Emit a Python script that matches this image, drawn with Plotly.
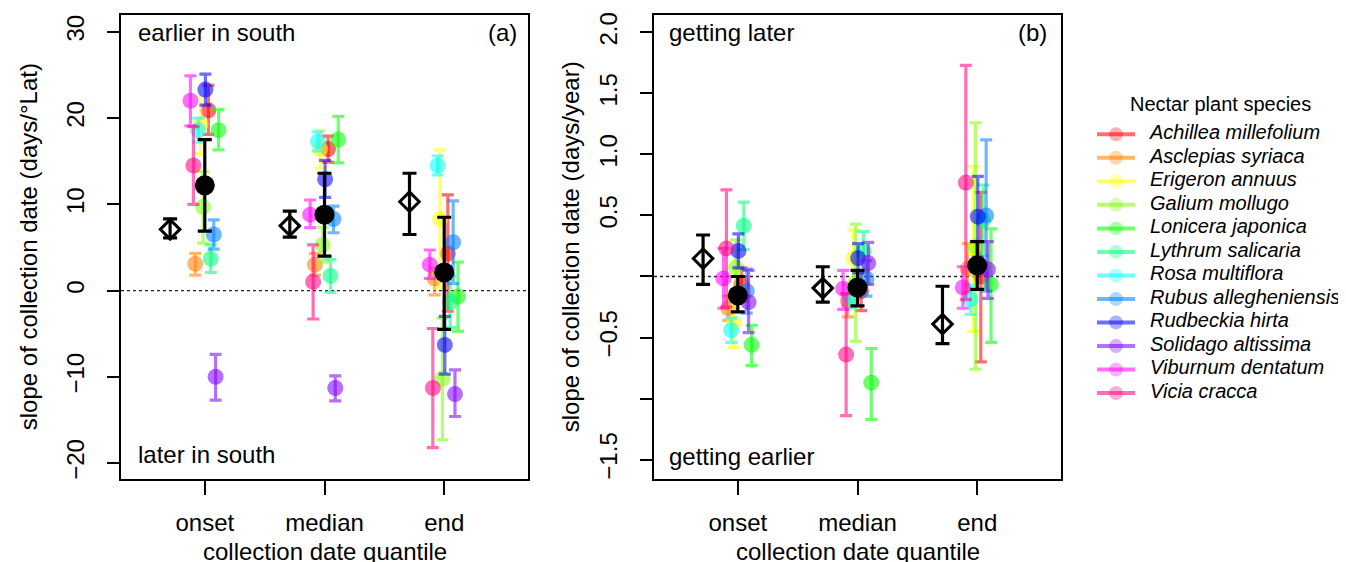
import plotly.graph_objects as go

# ---------------- data ----------------
quantiles = ["onset", "median", "end"]
species = ["Achillea millefolium", "Asclepias syriaca", "Erigeron annuus", "Galium mollugo",
           "Lonicera japonica", "Lythrum salicaria", "Rosa multiflora", "Rubus allegheniensis",
           "Rudbeckia hirta", "Solidago altissima", "Viburnum dentatum", "Vicia cracca"]

# panel (a): slope vs latitude (days/°Lat) -- [onset, median, end]
lat_est = {
    "Achillea millefolium": [20.9, 16.4, 4.3],
    "Asclepias syriaca": [3.1, 3.0, 1.4],
    "Erigeron annuus": [19.3, 16.4, 8.3],
    "Galium mollugo": [9.7, 5.3, -10.2],
    "Lonicera japonica": [18.6, 17.5, -0.7],
    "Lythrum salicaria": [3.7, 1.7, -1.3],
    "Rosa multiflora": [18.6, 17.3, 14.5],
    "Rubus allegheniensis": [6.5, 8.3, 5.6],
    "Rudbeckia hirta": [23.3, 12.9, -6.3],
    "Solidago altissima": [-10.0, -11.3, -12.0],
    "Viburnum dentatum": [22.0, 8.8, 3.0],
    "Vicia cracca": [14.5, 1.0, -11.3],
}
lat_lo = {
    "Achillea millefolium": [18.1, 14.9, -2.4],
    "Asclepias syriaca": [1.8, 1.8, -0.5],
    "Erigeron annuus": [15.9, 14.2, 0.3],
    "Galium mollugo": [5.5, 3.3, -17.3],
    "Lonicera japonica": [16.3, 14.8, -4.7],
    "Lythrum salicaria": [2.1, -0.2, -4.3],
    "Rosa multiflora": [17.2, 16.2, 13.4],
    "Rubus allegheniensis": [4.8, 6.7, 0.8],
    "Rudbeckia hirta": [21.5, 10.8, -9.7],
    "Solidago altissima": [-12.7, -12.8, -14.6],
    "Viburnum dentatum": [19.1, 7.3, 1.4],
    "Vicia cracca": [10.0, -3.3, -18.2],
}
lat_hi = {
    "Achillea millefolium": [23.8, 17.9, 11.1],
    "Asclepias syriaca": [4.3, 4.3, 2.6],
    "Erigeron annuus": [22.5, 18.6, 16.3],
    "Galium mollugo": [13.8, 7.3, -3.2],
    "Lonicera japonica": [21.0, 20.2, 3.3],
    "Lythrum salicaria": [5.3, 3.6, 1.7],
    "Rosa multiflora": [20.0, 18.4, 15.6],
    "Rubus allegheniensis": [8.2, 9.8, 10.4],
    "Rudbeckia hirta": [25.1, 15.1, -3.0],
    "Solidago altissima": [-7.4, -9.9, -9.2],
    "Viburnum dentatum": [24.9, 10.5, 4.7],
    "Vicia cracca": [19.0, 5.3, -4.4],
}
lat_mean = [12.2, 8.8, 2.1]
lat_mean_lo = [6.9, 4.0, -4.5]
lat_mean_hi = [17.5, 13.6, 8.5]
lat_all = [7.1, 7.5, 10.3]
lat_all_lo = [6.1, 6.2, 6.5]
lat_all_hi = [8.3, 9.2, 13.6]

# panel (b): slope vs year (days/year) -- [onset, median, end]
yr_est = {
    "Achillea millefolium": [-0.065, -0.12, 0.0],
    "Asclepias syriaca": [-0.26, -0.20, 0.065],
    "Erigeron annuus": [-0.38, 0.15, 0.23],
    "Galium mollugo": [0.073, -0.05, 0.245],
    "Lonicera japonica": [-0.56, -0.87, -0.065],
    "Lythrum salicaria": [0.415, 0.21, 0.46],
    "Rosa multiflora": [-0.44, -0.18, -0.19],
    "Rubus allegheniensis": [-0.12, -0.016, 0.50],
    "Rudbeckia hirta": [0.21, 0.15, 0.49],
    "Solidago altissima": [-0.21, 0.11, 0.057],
    "Viburnum dentatum": [-0.016, -0.10, -0.09],
    "Vicia cracca": [0.23, -0.64, 0.77],
}
yr_lo = {
    "Achillea millefolium": [-0.20, -0.28, -0.70],
    "Asclepias syriaca": [-0.36, -0.33, -0.13],
    "Erigeron annuus": [-0.58, -0.08, -0.45],
    "Galium mollugo": [-0.15, -0.53, -0.76],
    "Lonicera japonica": [-0.73, -1.17, -0.54],
    "Lythrum salicaria": [0.22, 0.05, 0.17],
    "Rosa multiflora": [-0.54, -0.26, -0.31],
    "Rubus allegheniensis": [-0.30, -0.16, -0.12],
    "Rudbeckia hirta": [0.07, 0.03, 0.16],
    "Solidago altissima": [-0.46, -0.065, -0.18],
    "Viburnum dentatum": [-0.26, -0.27, -0.26],
    "Vicia cracca": [-0.25, -1.14, -0.19],
}
yr_hi = {
    "Achillea millefolium": [0.07, 0.04, 0.69],
    "Asclepias syriaca": [-0.16, -0.07, 0.27],
    "Erigeron annuus": [-0.18, 0.38, 0.90],
    "Galium mollugo": [0.30, 0.43, 1.26],
    "Lonicera japonica": [-0.40, -0.59, 0.39],
    "Lythrum salicaria": [0.61, 0.37, 0.75],
    "Rosa multiflora": [-0.34, -0.10, -0.07],
    "Rubus allegheniensis": [0.06, 0.13, 1.12],
    "Rudbeckia hirta": [0.35, 0.27, 0.82],
    "Solidago altissima": [0.05, 0.28, 0.285],
    "Viburnum dentatum": [0.23, 0.05, 0.08],
    "Vicia cracca": [0.71, -0.14, 1.73],
}
yr_mean = [-0.155, -0.09, 0.09]
yr_mean_lo = [-0.29, -0.24, -0.106]
yr_mean_hi = [0.0, 0.05, 0.285]
yr_all = [0.147, -0.095, -0.39]
yr_all_lo = [-0.065, -0.21, -0.55]
yr_all_hi = [0.34, 0.08, -0.08]

# ---------------- styles ----------------
base_rgb = [(255, 0, 0), (255, 128, 0), (255, 255, 0), (128, 255, 0), (0, 255, 0), (0, 255, 128),
            (0, 255, 255), (0, 128, 255), (0, 0, 255), (128, 0, 255), (255, 0, 255), (255, 0, 128)]
ALPHA = 0.57
colors = [f"rgba({r},{g},{b},{ALPHA})" for r, g, b in base_rgb]
jitter = [0.03, -0.08, -0.035, -0.015, 0.115, 0.05, -0.055, 0.075, 0.005, 0.09, -0.12, -0.095]
DIAMOND_SHIFT = -0.29
FONT = "Liberation Sans, Arial, Helvetica, sans-serif"

# the page body has an 8px margin: the figure is placed at (8, 8) in the window
OFF = 8
WIN_W, WIN_H = 1346, 562
W, H = WIN_W - OFF, WIN_H - OFF
PA = (121, 528)
PB = (654, 1061)
TOP, BOT = 12, 479

fig = go.Figure()


def add_panel(est, lo, hi, m, mlo, mhi, a, alo, ahi, xa, ya):
    xs_base = [1, 2, 3]
    for i, sp in enumerate(species):
        e = est[sp]
        fig.add_trace(go.Scatter(
            x=[x + jitter[i] for x in xs_base], y=e, mode="markers",
            marker=dict(size=16, color=colors[i], line=dict(width=0)),
            error_y=dict(type="data", symmetric=False,
                         array=[h - v for h, v in zip(hi[sp], e)],
                         arrayminus=[v - l for v, l in zip(e, lo[sp])],
                         color=colors[i], thickness=3.2, width=6),
            xaxis=xa, yaxis=ya, showlegend=False, hoverinfo="skip"))
    fig.add_trace(go.Scatter(
        x=[x + DIAMOND_SHIFT for x in xs_base], y=a, mode="markers",
        marker=dict(size=15, symbol="diamond-open", color="black", line=dict(width=3, color="black")),
        error_y=dict(type="data", symmetric=False,
                     array=[h - v for h, v in zip(ahi, a)],
                     arrayminus=[v - l for v, l in zip(a, alo)],
                     color="black", thickness=3.2, width=7),
        xaxis=xa, yaxis=ya, showlegend=False, hoverinfo="skip"))
    fig.add_trace(go.Scatter(
        x=xs_base, y=m, mode="markers",
        marker=dict(size=20, color="black"),
        error_y=dict(type="data", symmetric=False,
                     array=[h - v for h, v in zip(mhi, m)],
                     arrayminus=[v - l for v, l in zip(m, mlo)],
                     color="black", thickness=3.2, width=7),
        xaxis=xa, yaxis=ya, showlegend=False, hoverinfo="skip"))


add_panel(lat_est, lat_lo, lat_hi, lat_mean, lat_mean_lo, lat_mean_hi,
          lat_all, lat_all_lo, lat_all_hi, "x", "y")
add_panel(yr_est, yr_lo, yr_hi, yr_mean, yr_mean_lo, yr_mean_hi,
          yr_all, yr_all_lo, yr_all_hi, "x2", "y2")

# ---------------- custom legend (hidden axis) ----------------
LEG_X0 = 1085
for i, sp in enumerate(species):
    fig.add_trace(go.Scatter(
        x=[1097 - LEG_X0, 1116 - LEG_X0, 1135 - LEG_X0], y=[i, i, i], mode="lines+markers",
        line=dict(color=colors[i], width=4),
        marker=dict(size=[0, 14, 0], color=f"rgba({base_rgb[i][0]},{base_rgb[i][1]},{base_rgb[i][2]},0.45)",
                    line=dict(width=0)),
        xaxis="x3", yaxis="y3", showlegend=False, hoverinfo="skip"))
fig.add_trace(go.Scatter(
    x=[1150 - LEG_X0] * len(species), y=list(range(len(species))), mode="text",
    text=[f"<i>{s}</i>" for s in species], textposition="middle right",
    textfont=dict(family=FONT, size=20, color="black"),
    xaxis="x3", yaxis="y3", showlegend=False, hoverinfo="skip"))

leg_first, leg_step = 132, 23.64


def px2x(p):
    return (p - OFF) / W


def px2y(p):
    return 1 - (p - OFF) / H


axis_common = dict(showgrid=False, zeroline=False, showline=True, mirror=True,
                   linecolor="black", linewidth=1.5, ticks="outside", tickwidth=1.5,
                   tickcolor="black", tickfont=dict(family=FONT, size=24, color="black"))

fig.update_layout(
    width=W, height=H, margin=dict(l=0, r=0, t=0, b=0),
    paper_bgcolor="white", plot_bgcolor="white", showlegend=False,
    font=dict(family=FONT, size=24, color="black"),
    xaxis=dict(domain=[px2x(PA[0]), px2x(PA[1])], range=[0.3, 3.7], tickvals=[1, 2, 3],
               ticktext=quantiles, ticklen=14, ticklabelstandoff=7, anchor="y", **axis_common),
    yaxis=dict(domain=[px2y(BOT), px2y(TOP)], range=[-21.9, 31.95],
               tickvals=[-20, -10, 0, 10, 20, 30],
               ticktext=["\u221220", "\u221210", "0", "10", "20", "30"],
               tickangle=-90, ticklen=12, ticklabelstandoff=14, anchor="x", **axis_common),
    xaxis2=dict(domain=[px2x(PB[0]), px2x(PB[1])], range=[0.3, 3.7], tickvals=[1, 2, 3],
                ticktext=quantiles, ticklen=14, ticklabelstandoff=7, anchor="y2", **axis_common),
    yaxis2=dict(domain=[px2y(BOT), px2y(TOP)], range=[-1.663, 2.143],
                tickvals=[-1.5, -1.0, -0.5, 0, 0.5, 1.0, 1.5, 2.0],
                ticktext=["\u22121.5", "", "\u22120.5", "", "0.5", "1.0", "1.5", "2.0"],
                tickangle=-90, ticklen=12, ticklabelstandoff=14, anchor="x2", **axis_common),
    xaxis3=dict(domain=[px2x(LEG_X0), 1], range=[0, WIN_W - LEG_X0], visible=False, anchor="y3"),
    yaxis3=dict(domain=[0, 1], range=[(WIN_H - leg_first) / leg_step, -(leg_first - OFF) / leg_step],
                visible=False, anchor="x3"),
)

# zero reference lines
for xa, ya in (("x", "y"), ("x2", "y2")):
    fig.add_shape(type="line", xref=f"{xa} domain", yref=ya, x0=0, x1=1, y0=0, y1=0,
                  line=dict(color="#222222", width=1.3, dash="dot"), layer="below")

ann = []


def txt(text, x, y, xanchor="left", yanchor="middle", size=24, angle=0):
    ann.append(dict(text=text, x=px2x(x), y=px2y(y), xref="paper", yref="paper",
                    xanchor=xanchor, yanchor=yanchor, showarrow=False, textangle=angle,
                    font=dict(family=FONT, size=size, color="black")))


txt("earlier in south", 136, 30)
txt("later in south", 136, 454)
txt("(a)", 519, 30, xanchor="right")
txt("getting later", 667, 30)
txt("getting earlier", 667, 456)
txt("(b)", 1049, 30, xanchor="right")
txt("slope of collection date (days/\u00b0Lat)", 28, (TOP + BOT) / 2, xanchor="center", angle=-90)
txt("slope of collection date (days/year)", 570, (TOP + BOT) / 2, xanchor="center", angle=-90)
txt("collection date quantile", (PA[0] + PA[1]) / 2, 551, xanchor="center")
txt("collection date quantile", (PB[0] + PB[1]) / 2, 551, xanchor="center")
txt("Nectar plant species", 1220, 102, xanchor="center", size=20)
fig.update_layout(annotations=ann)

fig.write_html("out.html")
